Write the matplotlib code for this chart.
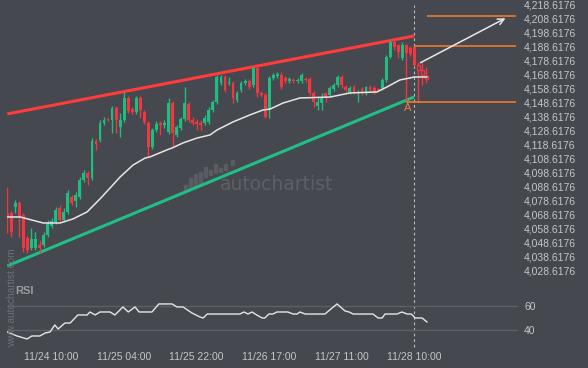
import matplotlib
matplotlib.use('Agg')
import matplotlib.pyplot as plt
import numpy as np

# hourly candles, index 0..101 (pattern), 102..104 are the hollow "after" candles
opens = [4069.6, 4069.6, 4073.8, 4076.7, 4068.1, 4051.7, 4044.6, 4044.6, 4046.7, 4046.7,
         4053.8, 4060.3, 4063.1, 4073.1, 4064.6, 4070.3, 4081.0, 4078.1, 4081.0, 4093.1,
         4098.1, 4094.6, 4121.0, 4121.7, 4133.8, 4136.7, 4136.0, 4144.6, 4131.0, 4136.0,
         4151.7, 4143.8, 4141.7, 4151.7, 4141.7, 4133.8, 4116.7, 4128.8, 4133.8, 4132.4,
         4127.4, 4148.1, 4125.3, 4130.3, 4136.7, 4147.4, 4136.0, 4134.6, 4133.8, 4133.8,
         4134.6, 4143.1, 4148.8, 4162.4, 4166.7, 4162.4, 4162.4, 4150.3, 4157.4, 4162.4,
         4163.8, 4161.0, 4173.1, 4155.3, 4153.8, 4143.1, 4166.0, 4167.4, 4168.1, 4166.0,
         4163.8, 4164.6, 4163.8, 4163.8, 4165.3, 4165.3, 4155.3, 4146.0, 4148.1, 4155.3,
         4153.8, 4158.1, 4161.0, 4166.7, 4159.6, 4156.0, 4159.6, 4155.3, 4158.1, 4155.3,
         4159.6, 4158.8, 4158.1, 4158.8, 4164.6, 4181.0, 4191.7, 4189.6, 4180.3, 4189.6,
         4187.4, 4188.1, 4175.3, 4171.7, 4167.4]
highs = [4088.1, 4071.0, 4078.8, 4078.1, 4069.6, 4053.1, 4058.8, 4056.0, 4050.3, 4056.0,
         4064.6, 4066.0, 4073.8, 4075.3, 4073.1, 4086.0, 4082.4, 4084.6, 4095.3, 4100.3,
         4099.6, 4123.1, 4122.4, 4136.0, 4138.1, 4137.4, 4146.0, 4146.0, 4141.0, 4156.0,
         4153.1, 4145.3, 4153.1, 4153.1, 4143.1, 4135.3, 4130.3, 4135.3, 4135.3, 4136.0,
         4151.7, 4149.6, 4132.4, 4138.1, 4159.6, 4148.8, 4138.1, 4136.7, 4136.0, 4139.6,
         4145.3, 4150.3, 4168.1, 4168.1, 4168.1, 4166.7, 4163.8, 4156.7, 4163.8, 4165.3,
         4165.3, 4173.8, 4173.8, 4156.7, 4155.3, 4167.4, 4169.6, 4170.3, 4170.3, 4167.4,
         4166.7, 4166.0, 4166.0, 4169.6, 4166.7, 4166.7, 4156.7, 4152.4, 4155.3, 4156.0,
         4160.3, 4162.4, 4168.1, 4168.1, 4161.0, 4160.3, 4161.0, 4157.4, 4159.6, 4160.3,
         4161.0, 4160.3, 4158.8, 4166.0, 4182.4, 4193.1, 4193.1, 4190.3, 4191.7, 4190.3,
         4188.8, 4188.8, 4177.4, 4177.4, 4173.8]
lows = [4055.3, 4052.4, 4069.6, 4052.4, 4041.7, 4041.0, 4043.1, 4043.1, 4041.0, 4045.3,
        4052.4, 4058.8, 4061.7, 4063.1, 4063.1, 4068.8, 4075.3, 4073.8, 4079.6, 4091.7,
        4089.6, 4093.1, 4114.6, 4120.3, 4132.4, 4135.3, 4126.7, 4126.7, 4123.8, 4134.6,
        4141.0, 4140.3, 4140.3, 4137.4, 4133.1, 4109.6, 4115.3, 4127.4, 4125.3, 4130.3,
        4126.0, 4116.7, 4123.8, 4128.8, 4135.3, 4134.6, 4132.4, 4128.8, 4128.8, 4132.4,
        4133.1, 4141.7, 4147.4, 4161.0, 4156.0, 4161.0, 4148.1, 4148.8, 4156.0, 4161.0,
        4158.1, 4159.6, 4152.4, 4152.4, 4137.4, 4137.4, 4164.6, 4166.0, 4158.1, 4162.4,
        4162.4, 4162.4, 4162.4, 4162.4, 4163.1, 4153.8, 4145.3, 4143.1, 4143.1, 4148.8,
        4152.4, 4156.7, 4159.6, 4158.8, 4156.0, 4154.6, 4154.6, 4148.8, 4153.8, 4153.8,
        4156.0, 4154.6, 4156.7, 4157.4, 4163.1, 4180.3, 4186.0, 4180.3, 4178.8, 4148.8,
        4181.7, 4174.6, 4148.8, 4161.0, 4162.4]
closes = [4067.4, 4056.0, 4076.7, 4066.7, 4044.6, 4043.1, 4051.0, 4051.0, 4044.6, 4053.8,
          4062.4, 4063.8, 4071.7, 4064.6, 4070.3, 4083.8, 4076.7, 4082.4, 4093.1, 4098.1,
          4094.6, 4121.0, 4118.8, 4133.8, 4136.0, 4136.0, 4144.6, 4136.0, 4136.0, 4151.7,
          4142.4, 4141.7, 4151.7, 4143.1, 4134.6, 4116.7, 4128.8, 4133.1, 4132.4, 4133.8,
          4148.1, 4126.7, 4131.0, 4136.7, 4148.1, 4136.0, 4133.8, 4133.1, 4132.4, 4137.4,
          4143.1, 4148.8, 4166.7, 4166.7, 4157.4, 4163.1, 4151.7, 4155.3, 4162.4, 4163.8,
          4159.6, 4173.1, 4155.3, 4153.8, 4138.1, 4166.0, 4168.1, 4168.8, 4159.6, 4163.8,
          4165.3, 4163.8, 4164.6, 4168.1, 4164.6, 4155.3, 4148.8, 4148.8, 4151.7, 4152.4,
          4158.8, 4161.0, 4166.7, 4161.0, 4157.4, 4158.8, 4156.0, 4156.0, 4155.3, 4159.6,
          4157.4, 4156.0, 4157.4, 4164.6, 4181.0, 4191.7, 4188.1, 4184.6, 4189.6, 4183.8,
          4183.1, 4175.3, 4171.7, 4168.1, 4165.3]
n_pattern = 102

# moving average, read as (candle index, price)
ma_idx = [0, 3.2, 8.9, 13.1, 16.3, 19.8, 23.0, 25.5, 28.0, 31.2, 34.2, 35.4, 39.6, 40.9,
          43.6, 47.1, 50.3, 52.0, 56.0, 60.2, 63.4, 65.2, 68.4, 72.6, 80.1, 85.0, 91.7,
          94.2, 97.4, 99.9, 100.9, 104.1]
ma_val = [4066.7, 4066.7, 4062.4, 4062.4, 4065.3, 4070.3, 4079.6, 4087.4, 4095.3, 4103.8,
          4108.8, 4109.6, 4114.6, 4116.0, 4119.6, 4123.1, 4125.3, 4128.8, 4134.6, 4139.6,
          4143.1, 4143.8, 4148.1, 4151.7, 4152.4, 4155.3, 4156.0, 4159.6, 4164.6, 4166.0,
          4166.7, 4166.7]

# RSI, read as (candle index, value)
rsi_idx = [0, 2.4, 4.9, 6.1, 8.1, 9.4, 10.6, 11.8, 12.6, 14.3, 15.6, 17.5, 19.8, 20.5,
           21.8, 23.0, 25.5, 26.7, 28.7, 30.0, 31.7, 32.7, 35.9, 37.6, 40.9, 42.1, 43.6,
           45.8, 47.8, 48.6, 49.6, 57.7, 58.7, 59.7, 60.7, 61.9, 63.2, 63.9, 64.9, 65.9,
           66.9, 69.6, 70.9, 71.9, 72.6, 73.9, 78.8, 81.8, 83.8, 84.8, 85.8, 90.7, 92.0,
           93.0, 93.7, 96.7, 97.9, 99.2, 100.2, 101.2, 102.9, 104.1]
rsi_val = [38.3, 35, 32.5, 35, 35, 37.5, 38.3, 44.2, 40.8, 45.8, 45.8, 52.5, 52.5, 55,
           52.5, 55, 55, 52.5, 59.2, 55, 59.2, 55, 55, 61.7, 61.7, 59.2, 59.2,
           54.2, 50.8, 50, 53.3, 53.3, 55, 53.3, 55, 52.5, 50, 50, 53.3, 53.3,
           55, 55, 53.3, 53.3, 55, 53.3, 53.3, 61.7, 55.8, 55, 53.3, 53.3, 50,
           50, 53.3, 53.3, 55, 53.3, 53.3, 50, 50, 46.7]

# channel lines (index, price)
upper_line = ([0, 100.9], [4140.3, 4196.0])
lower_line = ([0, 100.9], [4031.7, 4152.4])

# forecast levels: (price, start index)
levels = [(4210.3, 104.2), (4188.6176, 100.9), (4148.6176, 98.9)]
arrow_from = (101.9, 4176.0)
arrow_to = (124.2, 4209.6)
point_a = (99.3, 4144.5)
pattern_end = 101

tick_pos = [11, 29, 47, 65, 83, 101]
tick_labels = ['11/24 10:00', '11/25 04:00', '11/25 22:00', '11/26 17:00', '11/27 11:00', '11/28 10:00']
price_ticks = [4028.6176 + 10 * k for k in range(20)]

bg = '#45484e'
txt = '#c4c6c9'
up_col = '#1fbd80'
dn_col = '#f3363f'
orange = '#ff7a2e'

plt.rcParams['font.family'] = ['Liberation Sans', 'DejaVu Sans']

fig = plt.figure(figsize=(5.88, 3.68), dpi=100, facecolor=bg)
W, H = 588.0, 368.0
ax = fig.add_axes([7 / W, 1 - 285 / H, 511 / W, 285 / H], facecolor=bg)
rax = fig.add_axes([7 / W, 1 - 350 / H, 511 / W, 65 / H], facecolor=bg, sharex=ax)

for a in (ax, rax):
    for s in a.spines.values():
        s.set_visible(False)
    a.tick_params(length=0, colors=txt, labelsize=7.5)

ax.set_xlim(-0.07, 126.7)
ax.set_ylim(4018.1, 4221.7)

# watermark logo (behind everything in the price panel)
logo_bars = [(184, 185, 190), (189, 178, 189), (194, 174, 187), (199, 172, 185), (204, 167, 177),
             (209, 170, 175), (214, 164, 173), (219, 168, 172), (224, 164, 170), (231, 160, 165)]
for lx, ltop, lbot in logo_bars:
    ax.add_patch(plt.Rectangle((lx / W, 1 - lbot / H), 3 / W, (lbot - ltop) / H,
                               color='#595c62', transform=fig.transFigure, zorder=0.5))
ax.text(277 / W, 1 - 185 / H, 'autochartist', color='#5c5f65', fontsize=13.5,
        family='DejaVu Sans', ha='center', va='center', transform=fig.transFigure, zorder=0.5)

# channel
ax.plot(upper_line[0], upper_line[1], color='#ff3b3b', lw=2.2, solid_capstyle='butt', zorder=2)
ax.plot(lower_line[0], lower_line[1], color='#1fbf85', lw=2.2, solid_capstyle='butt', zorder=2)

# candles
idx = np.arange(len(opens))
o = np.array(opens); c = np.array(closes); hi = np.array(highs); lo = np.array(lows)
col = np.where(c >= o, up_col, dn_col)
solid = idx < n_pattern
ax.vlines(idx, lo, hi, colors=col, lw=1.0, zorder=3)
body_lo = np.minimum(o, c)
body_h = np.maximum(np.abs(c - o), 0.6)
ax.bar(idx[solid], body_h[solid], bottom=body_lo[solid], width=0.7, color=col[solid], zorder=4, linewidth=0)
ax.bar(idx[~solid], body_h[~solid], bottom=body_lo[~solid], width=0.55, facecolor=bg,
       edgecolor=dn_col, linewidth=1.0, zorder=4)

# moving average
ax.plot(ma_idx, ma_val, color='#e6e6e6', lw=1.1, zorder=5)

# forecast levels and arrow
for price, start in levels:
    ax.hlines(price, start, 126.2, color=orange, lw=1.1, zorder=5)
ax.annotate('', xy=arrow_to, xytext=arrow_from,
            arrowprops=dict(arrowstyle='->', color='#e8e8e8', lw=1.1, mutation_scale=11), zorder=6)
ax.text(point_a[0], point_a[1], 'A', color='#e8823f', fontsize=8, ha='center', va='center', zorder=6)

# pattern end marker
ax.axvline(pattern_end, ymin=0, ymax=1 - 5 / 285, color='#bdbdbd', lw=0.8, dashes=(2.5, 2.5), zorder=1)
rax.axvline(pattern_end, ymin=3 / 65, ymax=1, color='#bdbdbd', lw=0.8, dashes=(2.5, 2.5), zorder=1)

ax.yaxis.tick_right()
ax.set_yticks(price_ticks)
ax.set_yticklabels(['{:,.4f}'.format(v) for v in price_ticks])
ax.tick_params(axis='y', pad=4.5)
ax.tick_params(axis='x', labelbottom=False)

# RSI panel
rax.set_ylim(23.3, 77.5)
for lvl in (40, 60):
    rax.axhline(lvl, color='#5d6066', lw=1.0, zorder=1)
rax.plot(rsi_idx, rsi_val, color='#e6e6e6', lw=1.0, zorder=3)
rax.yaxis.tick_right()
rax.set_yticks([40, 60])
rax.set_yticklabels(['40', '60'])
rax.tick_params(axis='y', pad=4.5)
rax.set_xticks(tick_pos)
rax.set_xticklabels(tick_labels)
rax.tick_params(axis='x', pad=1.5)

# labels and site watermark
fig.text(15 / W, 1 - 291 / H, 'RSI', color='#9a9da2', fontsize=8, fontweight='bold', ha='left', va='center')
fig.text(12 / W, 1 - 298 / H, 'www.autochartist.com', color='#6c6f75', fontsize=7.3,
         rotation=90, ha='center', va='center')

fig.savefig('out.png', dpi=100, facecolor=bg)
